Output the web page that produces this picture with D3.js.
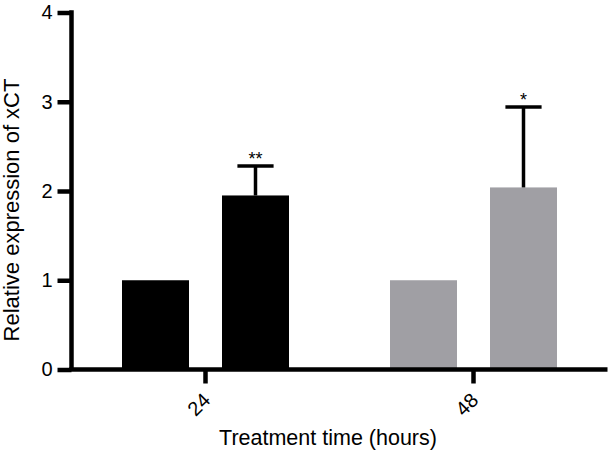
<!DOCTYPE html>
<html>
<head>
<meta charset="utf-8">
<script src="https://cdn.jsdelivr.net/npm/d3@7"></script>
<style>
  html, body { margin: 0; padding: 0; background: #fff; }
  svg { display: block; font-family: "Liberation Sans", Arial, Helvetica, sans-serif; }
</style>
</head>
<body>
<svg id="chart" width="609" height="452"></svg>
<script>
// ---- data ----
const categories = ["24", "48"];
const seriesNames = ["control", "treated"];
const controlValues = [1.0, 1.0];
const treatedValues = [1.95, 2.04];
const treatedErrors = [0.33, 0.90];
const significance = ["**", "*"];
const groupColors = ["#000000", "#a09fa4"];
const yTicks = [0, 1, 2, 3, 4];
const yLabel = "Relative expression of xCT";
const xLabel = "Treatment time (hours)";

// ---- layout ----
const W = 609, H = 452;
const m = { left: 71.5, top: 12.5, right: 1.5, bottom: 82.5 };
const svg = d3.select("#chart");

const x = d3.scaleBand().domain(categories).range([m.left, W - m.right]).padding(0);
const x1 = d3.scaleBand().domain(seriesNames).range([0, x.bandwidth()])
  .paddingInner(0.33).paddingOuter(0.505);
const y = d3.scaleLinear().domain([0, 4]).range([H - m.bottom, m.top]);

const rows = categories.map((c, i) => ({
  cat: c, color: groupColors[i],
  bars: [
    { s: "control", v: controlValues[i], e: 0 },
    { s: "treated", v: treatedValues[i], e: treatedErrors[i], sig: significance[i] }
  ]
}));

// bars
const g = svg.append("g");
rows.forEach(r => {
  r.bars.forEach(b => {
    const bx = x(r.cat) + x1(b.s);
    g.append("rect")
      .attr("x", bx).attr("width", x1.bandwidth())
      .attr("y", y(b.v)).attr("height", y(0) - y(b.v))
      .attr("fill", r.color);
    if (b.e > 0) {
      const cx = bx + x1.bandwidth() / 2;
      const capW = x1.bandwidth() * 0.54;
      g.append("line").attr("x1", cx).attr("x2", cx)
        .attr("y1", y(b.v)).attr("y2", y(b.v + b.e))
        .attr("stroke", "#000").attr("stroke-width", 3.5);
      g.append("line").attr("x1", cx - capW / 2).attr("x2", cx + capW / 2)
        .attr("y1", y(b.v + b.e)).attr("y2", y(b.v + b.e))
        .attr("stroke", "#000").attr("stroke-width", 3.5);
      g.append("text").attr("x", cx).attr("y", y(b.v + b.e) - 1)
        .attr("text-anchor", "middle").attr("font-size", 18)
        .attr("fill", "#000").text(b.sig);
    }
  });
});

// y axis
const yAxis = svg.append("g").attr("transform", `translate(${m.left},0)`)
  .call(d3.axisLeft(y).tickValues(yTicks).tickFormat(d3.format("d")).tickSize(14).tickSizeOuter(0).tickPadding(5));
yAxis.select(".domain").attr("stroke", "#000").attr("stroke-width", 4.5)
  .attr("d", `M0,${y(4) - 2.25}V${y(0)}`);
yAxis.selectAll(".tick line").attr("stroke", "#000").attr("stroke-width", 4.5);
yAxis.selectAll(".tick text").attr("font-size", 20).attr("fill", "#000")
  .attr("font-family", "'Liberation Sans', Arial, sans-serif");

// x axis
const xAxis = svg.append("g").attr("transform", `translate(0,${y(0)})`)
  .call(d3.axisBottom(x).tickSize(14).tickSizeOuter(0));
xAxis.select(".domain").attr("stroke", "#000").attr("stroke-width", 4.5)
  .attr("d", `M${m.left - 2.25},0H${W - m.right}`);
xAxis.selectAll(".tick line").attr("stroke", "#000").attr("stroke-width", 4.5);
xAxis.selectAll(".tick text")
  .attr("font-size", 20).attr("fill", "#000")
  .attr("font-family", "'Liberation Sans', Arial, sans-serif")
  .attr("text-anchor", "end")
  .attr("y", 0).attr("dy", 0)
  .attr("transform", "translate(6,32) rotate(-45)");

// axis titles
svg.append("text")
  .attr("transform", `translate(18.5,${(y(4) + y(0)) / 2 + 19}) rotate(-90)`)
  .attr("text-anchor", "middle").attr("font-size", 22).attr("fill", "#000")
  .text(yLabel);
svg.append("text")
  .attr("x", 328).attr("y", 445)
  .attr("text-anchor", "middle").attr("font-size", 21.5).attr("fill", "#000")
  .text(xLabel);
</script>
</body>
</html>
